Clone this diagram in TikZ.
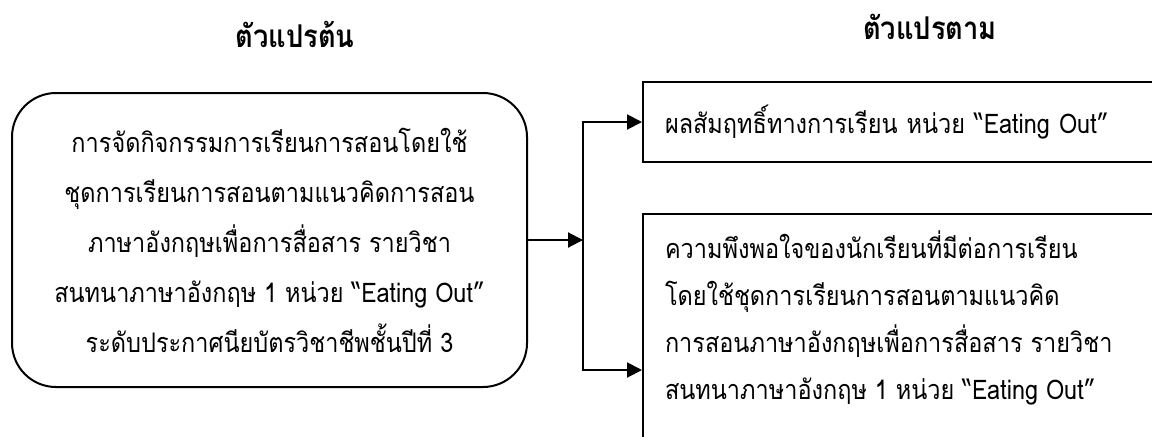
\documentclass[tikz,border=0pt]{standalone}
\usepackage{fontspec}
\setmainfont[Script=Thai,FakeStretch=0.87]{Loma}
\usetikzlibrary{arrows.meta}

\begin{document}
\begin{tikzpicture}[x=0.5pt,y=-0.5pt,>={Triangle[length=7.5pt,width=7.5pt]},line width=1pt,
	                    var title/.style={font=\fontsize{15.7}{18}\selectfont\bfseries},
	                    var box/.style={draw,font=\fontsize{13.5}{23.5}\selectfont},
	                    indep box/.style={var box,font=\fontsize{13.5}{25}\selectfont,rounded corners=22pt,align=center,minimum width=257.5pt,minimum height=147pt}]
		\path[use as bounding box,clip] (0,0) rectangle (1152,436);
		% Titles
		  \node (tIndep) at (295,34) [var title] {ตัวแปรต้น};
		  \node (tDep) at (930,27) [var title] {ตัวแปรตาม};
		
		% Boxes
		  \node (indep) at (269.5,240) [indep box] {การจัดกิจกรรมการเรียนการสอนโดยใช้\\ชุดการเรียนการสอนตามแนวคิดการสอน\\ภาษาอังกฤษเพื่อการสื่อสาร รายวิชา\\สนทนาภาษาอังกฤษ 1 หน่วย “Eating Out”\\ระดับประกาศนียบัตรวิชาชีพชั้นปีที่ 3};
		  \node (outA) at (642,122) [var box,anchor=west,minimum height=40pt,text width=248pt,align=left,inner xsep=11pt] {ผลสัมฤทธิ์ทางการเรียน หน่วย “Eating Out”};
		  \node (outB) at (642,213) [var box,anchor=north west,inner xsep=11pt,inner ysep=8.5pt] {\parbox[t][140pt][t]{248pt}{ความพึงพอใจของนักเรียนที่มีต่อการเรียน\\โดยใช้ชุดการเรียนการสอนตามแนวคิด\\การสอนภาษาอังกฤษเพื่อการสื่อสาร รายวิชา\\สนทนาภาษาอังกฤษ 1 หน่วย “Eating Out”}};
		
		% Edges
		  \coordinate (jTop) at (583,122);
		  \coordinate (jBot) at (583,370);
		  \draw[->] (indep) -- (indep -| jTop);
		  \draw[->] (jBot) -- (jTop) -- (outA);
		  \draw[->] (jTop) -- (jBot) -- (jBot -| outB.west);
		  
\end{tikzpicture}
\end{document}
